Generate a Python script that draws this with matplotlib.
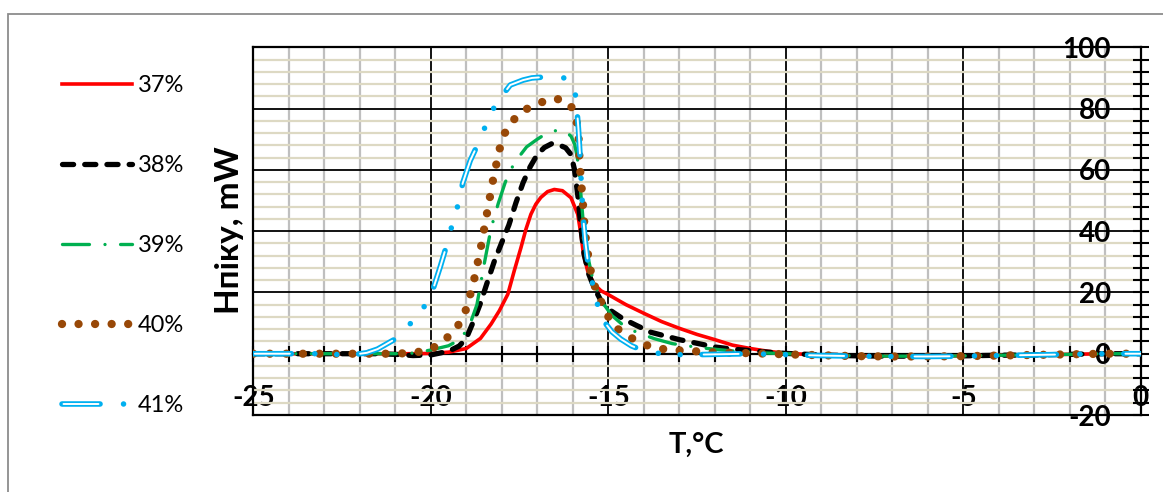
import matplotlib
matplotlib.use('Agg')
import matplotlib.pyplot as plt
from matplotlib.ticker import MultipleLocator
from matplotlib.legend_handler import HandlerTuple
from matplotlib.patches import Rectangle

plt.rcParams['font.family'] = ['Lato', 'DejaVu Sans']
plt.rcParams['lines.scale_dashes'] = False
plt.rcParams['axes.unicode_minus'] = False

# heat flow curves, T in deg C, H in mW
T37 = [-25, -23, -21, -20.5, -20, -19.5, -19, -18.6, -18.3, -18.07, -17.83, -17.65, -17.46, -17.32, -17.18,
       -17.04, -16.9, -16.71, -16.52, -16.29, -16.05, -15.86, -15.77, -15.70, -15.58, -15.40, -15.2, -15.0,
       -14.5, -14.0, -13.5, -13.0, -12.5, -12.0, -11.5, -11.0, -10.5, -10.0, -9, -8, -7, -6, -5, -4, -3,
       -2, -1, 0]
H37 = [0, 0, 0, 0, 0.1, 0.5, 1.7, 5, 9.7, 14, 19.4, 27, 34.6, 40.6, 45.5,
       48.8, 51, 52.9, 53.6, 53.2, 50.9, 45.5, 39, 32.5, 27, 22.7, 20.5, 19.3,
       16, 13.2, 10.5, 8.3, 6.3, 4.6, 2.8, 1.7, 0.8, 0.1, -0.4, -0.7, -0.8, -0.8, -0.7, -0.5, -0.4,
       -0.2, 0, 0]

T38 = [-25, -23, -21.5, -21, -20.5, -20, -19.5, -19.2, -19, -18.8, -18.6, -18.4, -18.2, -18.0, -17.8,
       -17.6, -17.4, -17.2, -17.0, -16.8, -16.6, -16.4, -16.2, -16.05, -15.95, -15.85, -15.77, -15.68,
       -15.55, -15.4, -15.2, -15.0, -14.6, -14.2, -13.8, -13.4, -13.0, -12.5, -12, -11.5, -11, -10.5,
       -10, -9, -8, -7, -6, -5, -4, -3, -2, -1, 0]
H38 = [0, 0, 0, -0.2, -0.6, -0.4, 0.8, 2.5, 5, 10.5, 16.5, 23.6, 30.5, 36.3, 42,
       49.3, 55.8, 61, 65, 67.3, 68.5, 68.2, 67.2, 65, 60, 51, 41, 32.5,
       26, 21.6, 17.2, 14.6, 11.5, 9.2, 7, 5.8, 4.6, 3.4, 2.2, 1.5, 1.0, 0.5,
       0.1, -0.4, -0.7, -0.8, -0.8, -0.7, -0.5, -0.4, -0.2, 0, 0]

T39 = [-25, -23, -21, -20.5, -20, -19.5, -19.15, -18.9, -18.7, -18.5, -18.3, -18.1, -17.9, -17.7, -17.5,
       -17.3, -17.0, -16.7, -16.4, -16.2, -16.05, -15.95, -15.87, -15.8, -15.72, -15.6, -15.45, -15.2,
       -14.9, -14.55, -14.2, -13.7, -13.2, -12.8, -12.2, -11.6, -11, -10.5, -10, -9, -8, -7, -6, -5,
       -4, -3, -2, -1, 0]
H39 = [0, 0, 0, 0.2, 1.2, 2.6, 4.8, 9.5, 16, 29, 41, 49, 56, 61, 64.5,
       67.5, 70, 72.2, 73, 72.5, 71, 68.5, 64, 56, 45, 33, 25, 17.3,
       12.5, 9, 7, 4.9, 3.3, 2.6, 1.7, 1.0, 0.5, 0.2, 0, -0.4, -0.7, -0.8, -0.8, -0.7,
       -0.5, -0.4, -0.2, 0, 0]

T40 = [-25, -23, -21.2, -20.5, -20, -19.7, -19.48, -19.2, -19.0, -18.8, -18.6, -18.42, -18.26, -18.07,
       -17.93, -17.7, -17.35, -16.9, -16.5, -16.1, -15.92, -15.84, -15.8, -15.72, -15.66, -15.58, -15.45,
       -15.2, -14.9, -14.55, -14.15, -13.75, -13.25, -12.8, -12.3, -11.9, -11.4, -10.5, -10, -9, -8, -7,
       -6, -5, -4, -3, -2, -1, 0]
H40 = [0, 0, 0, 0.2, 1.5, 3.5, 5.9, 9.7, 14.6, 23, 34, 45.6, 55.9, 66.5,
       71.7, 76, 79.6, 82, 83.4, 81.8, 78, 71.5, 61, 50, 40, 33, 24,
       17, 9.7, 6.4, 3.9, 2.0, 1.2, 1.0, 0.6, 0.4, 0.3, 0, -0.2, -0.5, -0.8, -0.9,
       -0.9, -0.8, -0.6, -0.4, -0.2, 0, 0]

T41 = [-25, -23, -22.3, -21.8, -21.5, -21.0, -20.6, -20.22, -19.93, -19.73, -19.55, -19.4, -19.24, -19.1,
       -18.89, -18.63, -18.4, -18.16, -17.76, -17.4, -17.15, -16.8, -16.52, -16.25, -16.1, -15.98, -15.91,
       -15.84, -15.8, -15.77, -15.71, -15.65, -15.58, -15.44, -15.26, -15.1, -14.9, -14.65, -14.35, -14.08,
       -13.7, -13.3, -12.5, -12, -11, -10, -9, -8, -7, -6, -5, -4, -3, -2, -1, 0]
H41 = [0, 0, -0.5, 0.3, 1.5, 4.8, 9.5, 14.6, 21.3, 28.5, 35.5, 42, 48.3, 55.7,
       63, 69.5, 76, 81.7, 87.7, 89.3, 90, 90.3, 90.4, 90, 89.1, 87, 83.7,
       73.4, 65.7, 58.1, 45, 37, 30.4, 22.7, 14, 10.2, 7.2, 4.8, 2.6, 1.3,
       0.3, -0.3, -0.3, -0.2, 0, -0.3, -0.6, -0.8, -0.9, -0.9, -0.8, -0.6, -0.4, -0.2, 0, 0]

labels = ['37%', '38%', '39%', '40%', '41%']

W, H = 1163, 492
fig = plt.figure(figsize=(W / 100, H / 100), dpi=100)
ax = fig.add_axes([253.3 / W, 1 - 415 / H, (1140.7 - 253.3) / W, (415 - 47.3) / H])

l37, = ax.plot(T37, H37, color='#FF0000', lw=2.6, zorder=3, solid_joinstyle='round')
l38, = ax.plot(T38, H38, color='black', lw=3.8, ls=(0, (8, 8)), dash_capstyle='round', zorder=4)
l39, = ax.plot(T39, H39, color='#00B050', lw=2.4, ls=(0, (19.4, 11.2, 0.01, 11.2)),
               dash_capstyle='round', zorder=5)
l40, = ax.plot(T40, H40, color='#984807', lw=6, ls=(0, (0.01, 11.9)), dash_capstyle='round', zorder=6)
# double line: blue outline with white core on the dashes
l41o, = ax.plot(T41, H41, color='#00B0F0', lw=4,
                ls=(0, (27.4, 16.9, 0.01, 15.8, 0.01, 15.8)), dash_capstyle='round', zorder=7)
l41i, = ax.plot(T41, H41, color='white', lw=1.4,
                ls=(74.85, (25.2, 50.73)), dash_capstyle='round', zorder=7.1)

ax.set_xlim(-25, 0)
ax.set_ylim(-20, 100)
ax.xaxis.set_major_locator(MultipleLocator(5))
ax.xaxis.set_minor_locator(MultipleLocator(1))
ax.yaxis.set_major_locator(MultipleLocator(20))
ax.yaxis.set_minor_locator(MultipleLocator(4))

ax.set_axisbelow(True)
ax.grid(True, which='major', color='black', lw=1.3)
ax.xaxis.grid(True, which='minor', color='#BFBFBF', lw=1.6)
ax.yaxis.grid(True, which='minor', color='#DDD9C3', lw=1.6)

for s in ['top', 'right']:
    ax.spines[s].set_visible(False)
ax.spines['left'].set_position(('data', 0))
ax.spines['bottom'].set_position(('data', 0))
ax.spines['left'].set_linewidth(1.6)
ax.spines['bottom'].set_linewidth(1.6)
ax.axvline(-25, color='black', lw=1.6, clip_on=False, zorder=1)
ax.axhline(-20, color='black', lw=1.6, clip_on=False, zorder=1)
ax.axhline(100, color='black', lw=1.6, clip_on=False, zorder=1)

ax.tick_params(which='both', direction='inout', length=11, width=1.5, color='black')
ax.tick_params(axis='x', which='both', pad=17, labelsize=20)
ax.tick_params(axis='y', which='both', pad=16, labelsize=20)
for t in ax.get_xticklabels() + ax.get_yticklabels():
    t.set_fontweight('bold')

fig.text(239 / W, 1 - 230 / H, 'Hпіку, mW', rotation=90, rotation_mode='anchor',
         ha='center', va='baseline', fontsize=24, fontweight='bold')
fig.text(696 / W, 1 - 453 / H, 'T,°C', ha='center', va='baseline', fontsize=21, fontweight='bold')

fig.legend([l37, l38, l39, l40, (l41o, l41i)], labels, loc='upper left',
           bbox_to_anchor=(62 / W, 1 - 75 / H), frameon=False, fontsize=17,
           handlelength=2.96, handletextpad=0.25, labelspacing=2.5,
           borderpad=0, borderaxespad=0, handler_map={tuple: HandlerTuple(ndivide=1)})

fig.add_artist(Rectangle((8 / W, -0.1), 1.2, (1 - 14 / H) + 0.1, transform=fig.transFigure,
                         fill=False, ec='#8C8C8C', lw=1.3))

fig.savefig('out.png', dpi=100)
